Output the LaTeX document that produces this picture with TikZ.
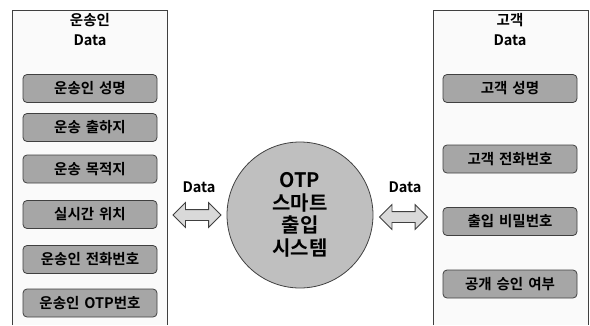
\documentclass[tikz,border=0pt]{standalone}
\usepackage{fontspec}
\setmainfont{Noto Sans CJK KR}[BoldFont={Noto Sans CJK KR Bold},WordSpace=1.5]
\usetikzlibrary{shapes.arrows}
\definecolor{edgegray}{HTML}{404040}
\definecolor{panelgray}{HTML}{FAFAFA}
\definecolor{itemgray}{HTML}{A6A6A6}
\definecolor{hubgray}{HTML}{BFBFBF}
\definecolor{arrowgray}{HTML}{D9D9D9}
\tikzset{
  panel/.style={draw=edgegray,fill=panelgray,line width=1pt},
  item/.style={draw=edgegray,fill=itemgray,rounded corners=4pt,line width=.8pt,
    minimum width=134pt,minimum height=28pt,inner sep=0pt,
    font=\fontsize{14.5}{16}\selectfont\bfseries},
  title/.style={align=center,font=\fontsize{14.5}{20}\selectfont\bfseries},
  flow/.style={double arrow,draw=edgegray,fill=arrowgray,line width=.8pt,
    inner sep=5pt,minimum height=48pt,double arrow head extend=7pt},
  flowlabel/.style={font=\fontsize{14.5}{16}\selectfont\bfseries}
}
\begin{document}
\begin{tikzpicture}[x=1pt,y=-1pt]
\useasboundingbox (0,0) rectangle (590,325);
% panels
\filldraw[panel] (12,325) |- (167,10) -- (167,325);
\filldraw[panel] (433,325) |- (588,10) -- (588,325);
\node[title] (shipT) at (90,30) {운송인\\Data};
\node[title] (custT) at (510,30) {고객\\Data};

% carrier items
\node[item] (ship1) at (90,88.5)  {운송인 성명};
\node[item] (ship2) at (90,127.5) {운송 출하지};
\node[item] (ship3) at (90,169)   {운송 목적지};
\node[item] (ship4) at (90,214.5) {실시간 위치};
\node[item] (ship5) at (90,259.5) {운송인 전화번호};
\node[item] (ship6) at (90,303)   {운송인 OTP번호};

% customer items
\node[item] (cust1) at (510,88.5)  {고객 성명};
\node[item] (cust2) at (510,159)   {고객 전화번호};
\node[item] (cust3) at (510,221.5) {출입 비밀번호};
\node[item] (cust4) at (510,284)   {공개 승인 여부};

% hub
\node[circle,draw=edgegray,fill=hubgray,line width=.8pt,minimum size=146pt,
  align=center,font=\fontsize{20}{22.5}\selectfont\bfseries] (hub) at (300,215)
  {OTP\\스마트\\출입\\시스템};

% data flows
\node[flow] (flowL) at (197,215) {};
\node[flow] (flowR) at (403.5,217) {};
\node[flowlabel] (dataL) at (199,187) {Data};
\node[flowlabel] (dataR) at (405,187) {Data};
\end{tikzpicture}
\end{document}
